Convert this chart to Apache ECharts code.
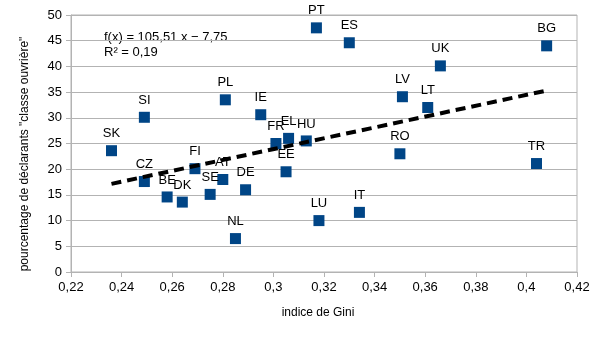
<!DOCTYPE html>
<html><head><meta charset="utf-8">
<script src="https://cdn.jsdelivr.net/npm/echarts@6/dist/echarts.min.js"></script>
<style>html,body{margin:0;padding:0;background:#fff}#c{width:605px;height:340px}</style>
</head><body><div id="c"></div>
<script>
const countries = ['PT','ES','BG','UK','LV','LT','SI','PL','IE','SK','FR','EL','HU','EE','CZ','FI','AT','BE','DK','SE','DE','NL','LU','IT','RO','TR'];
const gini = [0.317,0.330,0.408,0.366,0.351,0.361,0.249,0.281,0.295,0.236,0.301,0.306,0.313,0.305,0.249,0.269,0.280,0.258,0.264,0.275,0.289,0.285,0.318,0.334,0.350,0.404];
const ouvriere = [47.5,44.6,44.0,40.1,34.1,32.0,30.1,33.5,30.6,23.6,25.0,26.0,25.5,19.5,17.6,20.1,18.0,14.6,13.6,15.1,16.0,6.5,10.0,11.6,23.0,21.1];
const trendSlope = 105.51, trendIntercept = -7.75;
const yTicks = [0,50,5];
const xTicks = [0.22,0.42,0.02];

const pts = countries.map((c,i)=>({name:c,value:[gini[i],ouvriere[i]]}));
const xmin = Math.min(...gini), xmax = Math.max(...gini);
const trend = [[xmin, trendSlope*xmin+trendIntercept],[xmax, trendSlope*xmax+trendIntercept]];
const F = 'Liberation Sans, Arial, sans-serif';
const chart = echarts.init(document.getElementById('c'));
chart.setOption({
  animation:false,
  grid:{left:71,right:28,top:15,bottom:68,show:true,borderColor:'#b3b3b3',borderWidth:1},
  xAxis:{type:'value',min:xTicks[0],max:xTicks[1],interval:xTicks[2],
    axisLine:{lineStyle:{color:'#b3b3b3'}},
    axisTick:{show:true,length:5,lineStyle:{color:'#b3b3b3'}},
    splitLine:{show:false},
    axisLabel:{fontFamily:F,fontSize:13,color:'#000',margin:9,
      formatter:v=>String(+v.toFixed(2)).replace('.',',')}},
  yAxis:{type:'value',min:yTicks[0],max:yTicks[1],interval:yTicks[2],
    axisLine:{show:true,lineStyle:{color:'#b3b3b3'}},
    axisTick:{show:true,length:5,lineStyle:{color:'#b3b3b3'}},
    splitLine:{show:true,lineStyle:{color:'#b3b3b3'}},
    axisLabel:{fontFamily:F,fontSize:13,color:'#000',margin:9}},
  series:[
    {type:'scatter',data:pts,symbol:'rect',symbolSize:11,itemStyle:{color:'#004586',opacity:1},z:2,
      label:{show:true,position:'top',distance:5,formatter:p=>p.name,fontFamily:F,fontSize:13,color:'#000'}},
    {type:'line',data:trend,symbol:'none',z:3,silent:true,
      lineStyle:{color:'#000',width:4,type:[10,6]}}
  ],
  graphic:[
    {type:'text',left:104,top:30,style:{text:'f(x) = 105,51 x − 7,75\nR² = 0,19',fontFamily:F,fontSize:13,lineHeight:15,fill:'#000'}},
    {type:'text',x:318,y:313,style:{text:'indice de Gini',fontFamily:F,fontSize:12,fill:'#000',align:'center',verticalAlign:'middle'}},
    {type:'text',x:25,y:154,rotation:Math.PI/2,style:{text:'pourcentage de déclarants "classe ouvrière"',fontFamily:F,fontSize:12,fill:'#000',align:'center',verticalAlign:'middle'}}
  ]
});
</script></body></html>
